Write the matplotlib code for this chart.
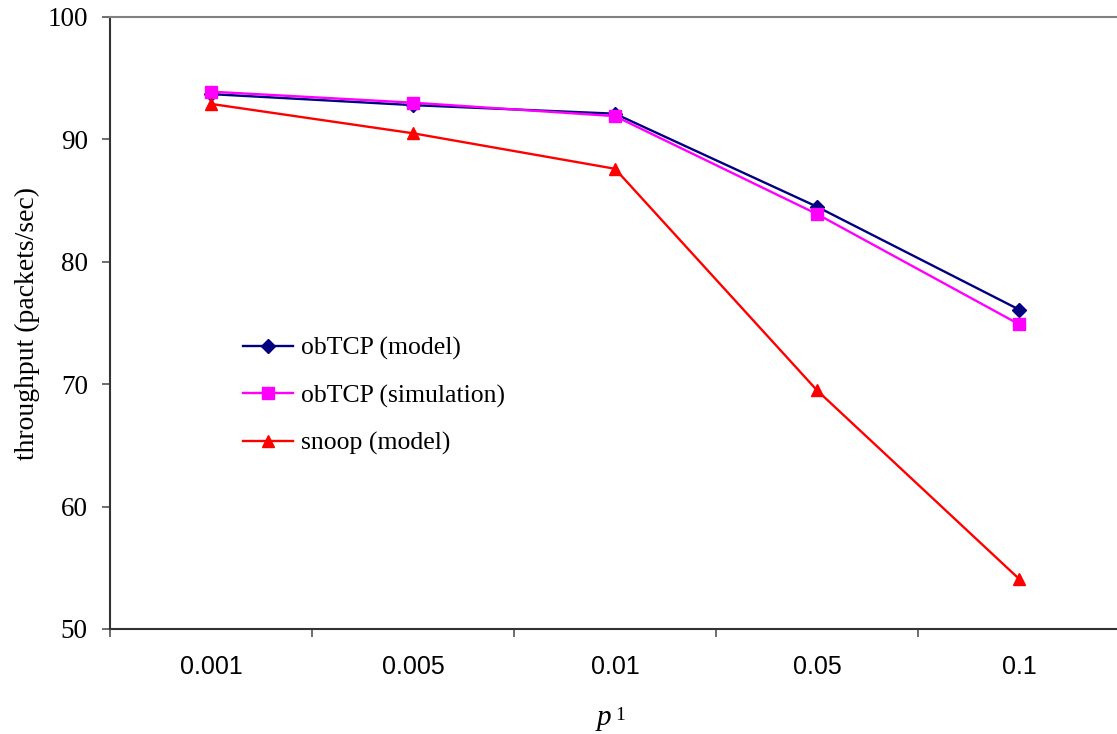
import numpy as np
import matplotlib
matplotlib.use('Agg')
from matplotlib import pyplot as plt

# loss probability p1 and throughput in packets/sec
p1_labels = ["0.001", "0.005", "0.01", "0.05", "0.1"]
obtcp_model = [93.7, 92.8, 92.1, 84.5, 76.1]
obtcp_sim = [93.9, 93.0, 91.9, 83.9, 74.9]
snoop_model = [92.9, 90.5, 87.6, 69.5, 54.1]

serif = "Liberation Serif"
sans = "Liberation Sans"

fig = plt.figure(figsize=(11.17, 7.34), dpi=100)
ax = fig.add_axes([110 / 1117, 105 / 734, 1010 / 1117, 612 / 734])

x = np.arange(len(p1_labels))
ax.plot(x, obtcp_model, color="#000080", lw=1.7, marker="D", ms=7,
        label="obTCP (model)")
ax.plot(x, obtcp_sim, color="#FF00FF", lw=1.7, marker="s", ms=8,
        label="obTCP (simulation)")
ax.plot(x, snoop_model, color="#FF0000", lw=1.7, marker="^", ms=8.5,
        label="snoop (model)")

ax.set_xlim(-0.5, len(p1_labels) - 0.5)
ax.set_ylim(50, 100)
ax.set_yticks(np.arange(50, 101, 10))
ax.set_xticks(x)
ax.set_xticklabels(p1_labels, fontfamily=sans, fontsize=18)
ax.set_xticks(np.arange(-0.5, len(p1_labels), 1), minor=True)
ax.tick_params(axis="x", which="major", length=0, pad=19)
ax.tick_params(axis="x", which="minor", length=6, width=1.2, color="#555555")
ax.tick_params(axis="y", length=6, width=1.2, color="#555555", pad=10)
for lab in ax.get_yticklabels():
    lab.set_fontfamily(serif)
    lab.set_fontsize(19.5)

ax.spines["right"].set_visible(False)
ax.spines["top"].set_color("#808080")
ax.spines["top"].set_linewidth(1.5)
for s in ("left", "bottom"):
    ax.spines[s].set_color("#333333")
    ax.spines[s].set_linewidth(1.5)

# axis titles
fig.text(27 / 1117, 1 - 323 / 734, "throughput (packets/sec)", fontfamily=serif,
         fontsize=20, rotation=90, ha="center", va="center")
fig.text(604 / 1117, 1 - 718 / 734, "p", fontfamily=serif, style="italic",
         fontsize=21, ha="center", va="center")
fig.text(620 / 1117, 1 - 716 / 734, "1", fontfamily=serif, fontsize=14,
         ha="center", va="center")

ax.legend(loc="center left", bbox_to_anchor=(243 / 1117, 1 - 396 / 734),
          bbox_transform=fig.transFigure, frameon=False, numpoints=1,
          prop={"family": serif, "size": 18.5}, handlelength=1.95,
          handletextpad=0.3, labelspacing=0.93, borderpad=0, borderaxespad=0)

fig.savefig("out.png", dpi=100)
